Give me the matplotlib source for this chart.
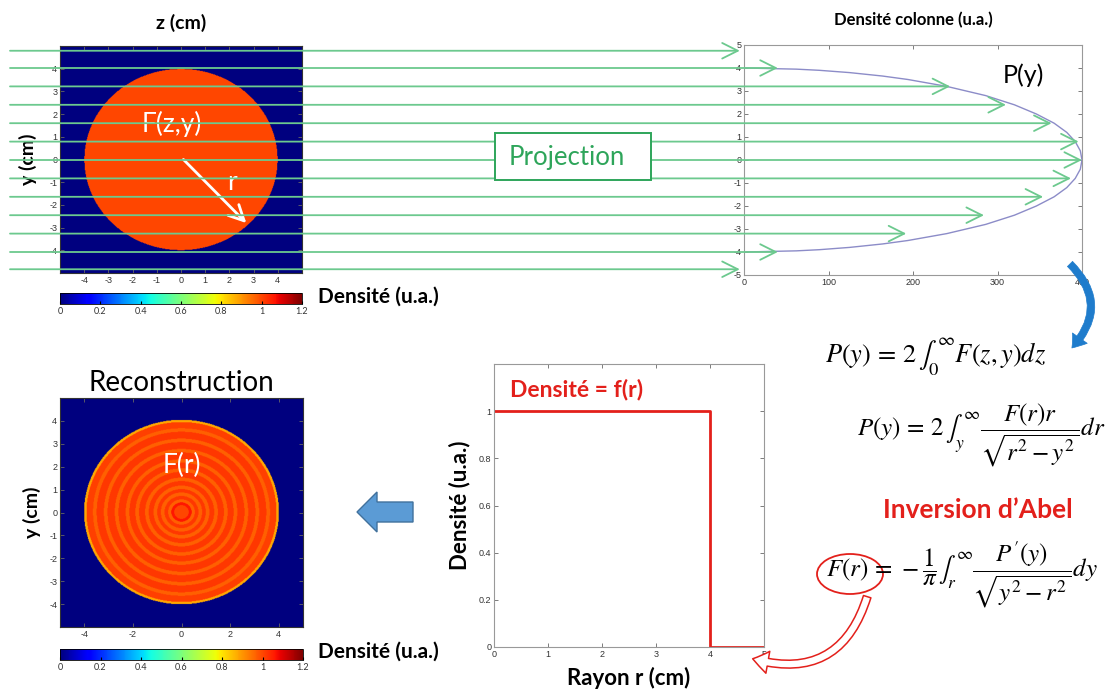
import numpy as np
import matplotlib
matplotlib.use('Agg')
import matplotlib.pyplot as plt
from matplotlib import patches
from matplotlib.transforms import blended_transform_factory

plt.rcParams['font.family'] = ['Lato', 'DejaVu Sans']
plt.rcParams['mathtext.fontset'] = 'stix'
plt.rcParams['axes.unicode_minus'] = False

W, H = 1114, 694

# ---- data ----
# original object : uniform disk
disk_radius = 4.0
disk_density = 1.0
grid_lim = 5.0

# projection rays (y, cm) and the P value where each arrow ends
ray_y = [4.75, 4.0, 3.2, 2.4, 1.6, 0.8, 0.0, -0.8, -1.6, -2.4, -3.2, -4.0, -4.75]
ray_tip = [-5, 40, 244, 310, 364, 396, 400, 387, 354, 284, 192, 40, -5]

# column density P(y)
py_y = [4.0, 3.95, 3.9, 3.8, 3.65, 3.5, 3.2, 2.8, 2.4, 2.0, 1.6, 1.2, 0.8, 0.4, 0.0,
        -0.4, -0.8, -1.2, -1.6, -2.0, -2.4, -2.8, -3.2, -3.5, -3.65, -3.8, -3.9, -3.95, -4.0]
py_val = [0, 62, 89, 125, 164, 194, 240, 286, 320, 346, 367, 382, 392, 398, 400,
          398, 392, 382, 367, 346, 320, 286, 240, 194, 164, 125, 89, 62, 0]

# reconstructed radial profile (ring edges in cm, density in each ring)
ring_edges = [0.30, 0.42, 0.55, 0.70, 0.85, 1.00, 1.15, 1.35, 1.50, 1.75, 1.90,
              2.15, 2.30, 2.60, 2.75, 3.05, 3.20, 3.50, 3.65, 3.92, 4.02]
ring_vals = [1.00, 1.06, 0.97, 1.02, 0.97, 1.02, 0.97, 1.02, 0.97, 1.02, 0.97,
             1.02, 0.97, 1.02, 0.97, 1.02, 0.97, 1.02, 0.97, 1.01, 0.88, 0.0]

# radial density f(r)
r_step = [0, 4, 5]
f_step = [1, 0, 0]

cbar_ticks = [0, 0.2, 0.4, 0.6, 0.8, 1, 1.2]
cbar_labels = ['0', '0.2', '0.4', '0.6', '0.8', '1', '1.2']

green = '#6cc98e'
dgreen = '#2ea55a'
red = '#e3201b'

fig = plt.figure(figsize=(W / 100, H / 100), dpi=100)


def px_axes(l, t, r, b):
    return fig.add_axes([l / W, 1 - b / H, (r - l) / W, (b - t) / H])


def matlab_style(ax, spine='#666666'):
    ax.tick_params(direction='in', top=True, right=True, length=3, width=0.6,
                   labelsize=6.5, labelcolor='#333333', color='#666666', pad=2)
    for s in ax.spines.values():
        s.set_color(spine)
        s.set_linewidth(0.8)
    for lab in ax.get_xticklabels() + ax.get_yticklabels():
        lab.set_family('Liberation Sans')


n = 400
g = np.linspace(-grid_lim, grid_lim, n)
zz, yy = np.meshgrid(g, g)
rr = np.hypot(zz, yy)
disk = np.where(rr <= disk_radius, disk_density, 0.0)
recon = np.array(ring_vals)[np.searchsorted(ring_edges, rr, side='right')]

# ---- top-left : original object ----
ax1 = px_axes(60, 46, 302, 273)
im1 = ax1.imshow(disk, extent=[-grid_lim, grid_lim, -grid_lim, grid_lim], origin='lower',
                 cmap='jet', vmin=0, vmax=1.2, aspect='auto')
ax1.set_xticks(range(-4, 5))
ax1.set_yticks(range(-4, 5))
matlab_style(ax1, '#333333')
ax1.set_title('z (cm)', fontsize=14, fontweight='bold', pad=12)
ax1.set_ylabel('y (cm)', fontsize=14, fontweight='bold', labelpad=9)
ax1.text(-0.4, 1.55, 'F(z,y)', color='white', fontsize=19, ha='center', va='center')
ax1.annotate('', xy=(2.7, -2.8), xytext=(0.1, 0),
             arrowprops=dict(arrowstyle='->,head_length=0.5,head_width=0.25',
                             mutation_scale=22, color='white', lw=2, shrinkA=0, shrinkB=0))
ax1.text(2.1, -1.0, 'r', color='white', fontsize=19, ha='center', va='center')

cax1 = px_axes(60, 293, 302, 304)
cb1 = fig.colorbar(im1, cax=cax1, orientation='horizontal', ticks=cbar_ticks)
cb1.ax.set_xticklabels(cbar_labels)
cb1.ax.tick_params(labelsize=6.5, labelcolor='#333333', length=2, direction='in', pad=2)
cb1.outline.set_linewidth(0.6)
fig.text(318 / W, 1 - 297 / H, 'Densité (u.a.)', fontsize=15, fontweight='bold', va='center')

# ---- top-right : projection P(y) ----
ax2 = px_axes(744, 45, 1082, 275)
ax2.plot(py_val, py_y, color='#8c8cc8', lw=1)
ax2.set_xlim(0, 400)
ax2.set_ylim(-5, 5)
ax2.set_xticks([0, 100, 200, 300, 400])
ax2.set_yticks(range(-5, 6))
matlab_style(ax2, '#999999')
ax2.set_title('Densité colonne (u.a.)', fontsize=12, fontweight='bold', pad=14)
ax2.text(331, 3.7, 'P(y)', fontsize=18, ha='center', va='center')

start_tr = blended_transform_factory(fig.transFigure, ax2.transData)
for y, tip in zip(ray_y, ray_tip):
    ax2.annotate('', xy=(tip, y), xycoords='data', xytext=(10 / W, y), textcoords=start_tr,
                 arrowprops=dict(arrowstyle='->,head_length=0.4,head_width=0.2',
                                 mutation_scale=28, color=green, lw=1.3,
                                 shrinkA=0, shrinkB=0),
                 annotation_clip=False)

# ---- bottom-left : reconstruction ----
ax3 = px_axes(60, 398, 303, 627)
im3 = ax3.imshow(recon, extent=[-grid_lim, grid_lim, -grid_lim, grid_lim], origin='lower',
                 cmap='jet', vmin=0, vmax=1.2, aspect='auto')
ax3.set_xticks([-4, -2, 0, 2, 4])
ax3.set_yticks(range(-4, 5))
matlab_style(ax3, '#333333')
ax3.set_title('Reconstruction', fontsize=20, pad=5)
ax3.set_ylabel('y (cm)', fontsize=14, fontweight='bold', labelpad=6)
ax3.text(0, 2.07, 'F(r)', color='white', fontsize=19, ha='center', va='center')

cax3 = px_axes(60, 649, 303, 660)
cb3 = fig.colorbar(im3, cax=cax3, orientation='horizontal', ticks=cbar_ticks)
cb3.ax.set_xticklabels(cbar_labels)
cb3.ax.tick_params(labelsize=6.5, labelcolor='#333333', length=2, direction='in', pad=2)
cb3.outline.set_linewidth(0.6)
fig.text(318 / W, 1 - 652 / H, 'Densité (u.a.)', fontsize=15, fontweight='bold', va='center')

# ---- bottom-middle : radial density ----
ax4 = px_axes(494, 364, 764, 647)
ax4.step(r_step, f_step, where='post', color=red, lw=2)
ax4.set_xlim(0, 5)
ax4.set_ylim(0, 1.2)
ax4.set_xticks(range(0, 6))
ax4.set_yticks([0, 0.2, 0.4, 0.6, 0.8, 1])
ax4.set_yticklabels(['0', '0.2', '0.4', '0.6', '0.8', '1'])
matlab_style(ax4, '#999999')
ax4.set_xlabel('Rayon r (cm)', fontsize=16, fontweight='bold', labelpad=6)
ax4.set_ylabel('Densité (u.a.)', fontsize=16, fontweight='bold', labelpad=6)
ax4.text(0.3, 1.09, 'Densité = f(r)', color=red, fontsize=16.5, fontweight='bold', va='center')

# ---- overlay : box, formulas, arrows ----
ov = fig.add_axes([0, 0, 1, 1])
ov.set_xlim(0, W)
ov.set_ylim(H, 0)
ov.axis('off')

ov.add_patch(patches.Rectangle((495, 133), 156, 47, fc='white', ec=dgreen, lw=1.4))
ov.text(567, 157, 'Projection', fontsize=18.5, color=dgreen, ha='center', va='center')

ov.text(825, 357, r'$P(y)\,=\,2\,\int_0^{\infty}F(z,y)dz$', fontsize=19, va='center')
ov.text(857, 435, r'$P(y)\,=\,2\,\int_y^{\infty}\dfrac{F(r)r}{\sqrt{r^2-y^2}}dr$',
        fontsize=18, va='center')
ov.text(978, 510, 'Inversion d\u2019Abel', fontsize=19, fontweight='bold', color=red,
        ha='center', va='center')
ov.text(826, 575, r'$F(r)\,=\,-\dfrac{1}{\pi}\int_r^{\infty}\dfrac{P^{\prime}(y)}{\sqrt{y^2-r^2}}dy$',
        fontsize=18, va='center')

ov.add_patch(patches.FancyArrowPatch((1068, 262), (1070, 350), connectionstyle='arc3,rad=-0.5',
                                     arrowstyle='simple,head_length=0.7,head_width=1.0,tail_width=0.4',
                                     mutation_scale=13, fc='#1f7ccc', ec='#1f7ccc', lw=0.5))
ov.add_patch(patches.Ellipse((850, 574), 66, 40, fill=False, ec=red, lw=1.3))
ov.add_patch(patches.FancyArrowPatch((868, 594), (750, 658), connectionstyle='arc3,rad=-0.5',
                                     arrowstyle='simple,head_length=0.7,head_width=1.0,tail_width=0.35',
                                     mutation_scale=16, fc='white', ec=red, lw=1.1))
ov.add_patch(patches.FancyArrow(413, 512, -56, 0, width=20, head_width=40, head_length=20,
                                length_includes_head=True, fc='#5b9bd5', ec='#41719c', lw=1))

fig.savefig('out.png', dpi=100)
